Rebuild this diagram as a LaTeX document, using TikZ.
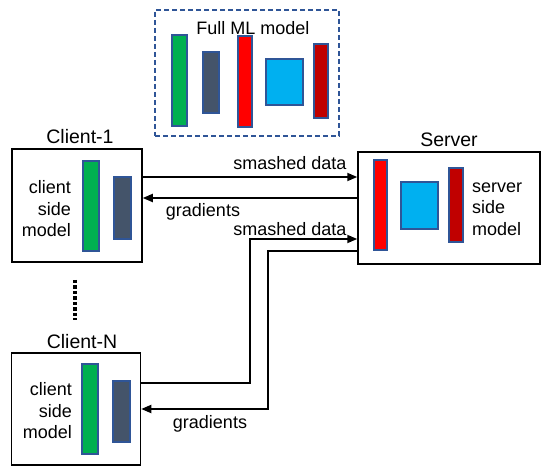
\documentclass[tikz,border=0pt]{standalone}
\usepackage{fontspec}
\setmainfont{Liberation Sans}
\usetikzlibrary{arrows.meta}
\definecolor{cgreen}{HTML}{00B050}
\definecolor{cslate}{HTML}{44546A}
\definecolor{cred}{HTML}{FF0000}
\definecolor{ccyan}{HTML}{00B0F0}
\definecolor{cdarkred}{HTML}{C00000}
\definecolor{cedge}{HTML}{2F5597}
\tikzset{
  bar/.style 2 args={draw=cedge, line width=1.3pt, inner sep=0pt, minimum width=#1, minimum height=#2},
  box/.style 2 args={draw=black, line width=1.5pt, inner sep=0pt, minimum width=#1, minimum height=#2},
  lbl/.style={font=\fontsize{18}{21.5}\selectfont, inner sep=0pt},
  ttl/.style={font=\fontsize{19.5}{22}\selectfont, inner sep=0pt},
  arr/.style={line width=1.8pt, -{Triangle[length=10pt,width=8pt]}}
}
\begin{document}
\begin{tikzpicture}[x=1pt,y=-1pt]
    \useasboundingbox (0,0) rectangle (550,476);
    % full model
    \node[box={184}{126}, draw=cedge, dash pattern=on 5pt off 3pt, line width=1.4pt] (full) at (247,73) {};
    \node[lbl] (fulltxt) at (253,28) {Full ML model};
    \node[bar={15}{91}, fill=cgreen] (fg) at (179.5,80.5) {};
    \node[bar={16}{61}, fill=cslate] (fs) at (211,82.5) {};
    \node[bar={14}{91}, fill=cred] (fr) at (245,81.5) {};
    \node[bar={37}{46}, fill=ccyan] (fc) at (284.5,82) {};
    \node[bar={14}{74}, fill=cdarkred] (fd) at (321,81) {};
    % client 1
    \node[box={130}{113}] (c1) at (77,205.5) {};
    \node[ttl] (c1t) at (80,137) {Client-1};
    \node[bar={16}{90}, fill=cgreen] (c1g) at (91,206) {};
    \node[bar={17}{62}, fill=cslate] (c1s) at (122.5,208) {};
    \node[lbl, align=right, anchor=east] (c1txt) at (71,209) {client\\side\\model};
    % server
    \node[box={182}{112}] (srv) at (449,208) {};
    \node[ttl] (srvt) at (449,140) {Server};
    \node[bar={13}{90}, fill=cred] (sr) at (380.5,205) {};
    \node[bar={37}{47}, fill=ccyan] (sc) at (419.5,205.5) {};
    \node[bar={14}{74}, fill=cdarkred] (sd) at (456,205) {};
    \node[lbl, align=left, anchor=west] (srvtxt) at (472,209) {server\\side\\model};
    % client N
    \node[box={129}{112}] (cN) at (76,409) {};
    \node[ttl] (cNt) at (82,342) {Client-N};
    \node[bar={16}{90}, fill=cgreen] (cNg) at (90,409) {};
    \node[bar={17}{61}, fill=cslate] (cNs) at (121.5,411.5) {};
    \node[lbl, align=right, anchor=east] (cNtxt) at (72,411) {client\\side\\model};
    % dots
    \draw[line width=4.5pt, dash pattern=on 3.5pt off 2pt] (75,280) -- (75,320);
    % client 1 <-> server
    \coordinate (s1) at (250,177);
    \coordinate (g1) at (250,198);
    \draw[arr] (c1.east |- s1) -- (srv.west |- s1);
    \draw[arr] (srv.west |- g1) -- (c1.east |- g1);
    \node[lbl] (s1txt) at (290,163) {smashed data};
    \node[lbl] (g1txt) at (203,212) {gradients};
    % client N <-> server
    \coordinate (k1) at (250,383);
    \coordinate (k2) at (250,239);
    \coordinate (k3) at (268,251);
    \coordinate (k4) at (268,409);
    \draw[arr] (cN.east |- k1) -- (k1) -- (k2) -- (srv.west |- k2);
    \draw[arr] (srv.west |- k3) -- (k3) -- (k4) -- (cN.east |- k4);
    \node[lbl] (s2txt) at (290,229) {smashed data};
    \node[lbl] (g2txt) at (210,424) {gradients};
\end{tikzpicture}
\end{document}
